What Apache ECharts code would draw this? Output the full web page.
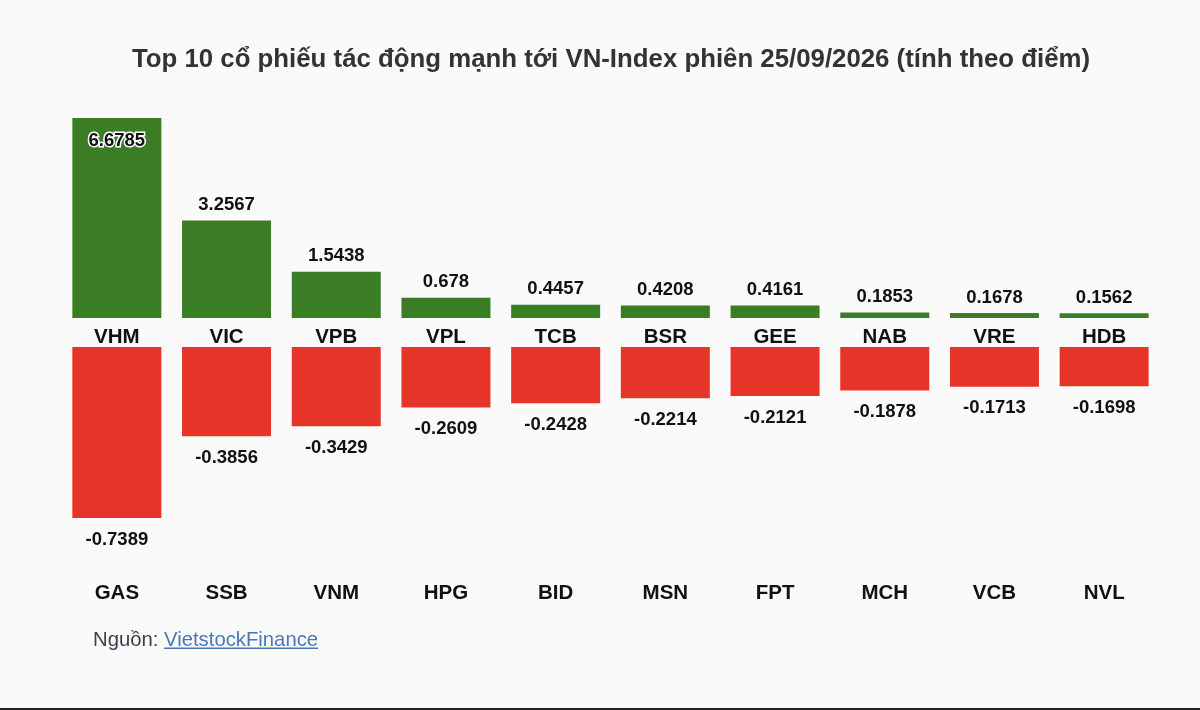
<!DOCTYPE html>
<html>
<head>
<meta charset="utf-8">
<title>Top 10 cổ phiếu tác động mạnh tới VN-Index</title>
<script src="https://cdn.jsdelivr.net/npm/echarts@6/dist/echarts.min.js"></script>
<style>
  html, body { margin: 0; padding: 0; background: #fafafa; }
  #main { width: 1200px; height: 710px; }
</style>
</head>
<body>
<div id="main"></div>
<script>
// ma tang diem / gia tri (diem)
var upNames = ['VHM', 'VIC', 'VPB', 'VPL', 'TCB', 'BSR', 'GEE', 'NAB', 'VRE', 'HDB'];
var upValues = [6.6785, 3.2567, 1.5438, 0.678, 0.4457, 0.4208, 0.4161, 0.1853, 0.1678, 0.1562];
// ma giam diem
var downNames = ['GAS', 'SSB', 'VNM', 'HPG', 'BID', 'MSN', 'FPT', 'MCH', 'VCB', 'NVL'];
var downValues = [-0.7389, -0.3856, -0.3429, -0.2609, -0.2428, -0.2214, -0.2121, -0.1878, -0.1713, -0.1698];

var FONT = '"Liberation Sans", Arial, Helvetica, sans-serif';
var GREEN = '#3b7d24';
var RED = '#e73428';

var dom = document.getElementById('main');
var myChart = echarts.init(dom);

// do rong chu de gach chan link nguon
var SRC_SIZE = 20.3;
var ctx = document.createElement('canvas').getContext('2d');
ctx.font = SRC_SIZE + 'px ' + FONT;
var srcLabel = 'Nguồn: ';
var srcLink = 'VietstockFinance';
var labelW = ctx.measureText(srcLabel).width;
var linkW = ctx.measureText(srcLink).width;

var upData = upValues.map(function (v, i) {
    if (i === 0) {
        // cot lon nhat: nhan nam trong cot
        return {
            value: v,
            label: {
                position: 'insideTop',
                distance: 13,
                textBorderColor: '#ffffff',
                textBorderWidth: 3
            }
        };
    }
    return v;
});

option = {
    backgroundColor: '#fafafa',
    animation: false,
    title: {
        text: 'Top 10 cổ phiếu tác động mạnh tới VN-Index phiên 25/09/2026 (tính theo điểm)',
        left: 611,
        textAlign: 'center',
        top: 47,
        padding: 0,
        textStyle: {
            color: '#333333',
            fontFamily: FONT,
            fontWeight: 'bold',
            fontSize: 25.8
        }
    },
    grid: [
        { left: 62, right: 41, top: 118, height: 200 },
        { left: 62, right: 41, top: 347, height: 171 }
    ],
    xAxis: [
        {
            type: 'category',
            gridIndex: 0,
            data: upNames,
            position: 'bottom',
            axisLine: { show: false },
            axisTick: { show: false },
            axisLabel: {
                margin: 9,
                color: '#111111',
                fontFamily: FONT,
                fontWeight: 'bold',
                fontSize: 20.5
            }
        },
        {
            type: 'category',
            gridIndex: 1,
            data: downNames,
            position: 'bottom',
            axisLine: { show: false },
            axisTick: { show: false },
            axisLabel: {
                margin: 65,
                color: '#111111',
                fontFamily: FONT,
                fontWeight: 'bold',
                fontSize: 20.5
            }
        }
    ],
    yAxis: [
        { type: 'value', gridIndex: 0, min: 0, max: 6.6785, show: false },
        { type: 'value', gridIndex: 1, min: -0.7389, max: 0, show: false }
    ],
    series: [
        {
            name: 'Tăng',
            type: 'bar',
            xAxisIndex: 0,
            yAxisIndex: 0,
            barWidth: 89,
            itemStyle: { color: GREEN },
            label: {
                show: true,
                position: 'top',
                distance: 6,
                color: '#111111',
                fontFamily: FONT,
                fontWeight: 'bold',
                fontSize: 18.5
            },
            data: upData
        },
        {
            name: 'Giảm',
            type: 'bar',
            xAxisIndex: 1,
            yAxisIndex: 1,
            barWidth: 89,
            itemStyle: { color: RED },
            label: {
                show: true,
                position: 'bottom',
                distance: 12,
                color: '#111111',
                fontFamily: FONT,
                fontWeight: 'bold',
                fontSize: 18.5
            },
            data: downValues
        }
    ],
    graphic: [
        {
            type: 'text',
            left: 93,
            top: 630,
            style: {
                text: srcLabel,
                fill: '#3b404c',
                font: SRC_SIZE + 'px ' + FONT
            }
        },
        {
            type: 'text',
            left: 93 + labelW,
            top: 630,
            style: {
                text: srcLink,
                fill: '#4a78b2',
                font: SRC_SIZE + 'px ' + FONT
            }
        },
        {
            type: 'rect',
            shape: { x: 93 + labelW, y: 647.5, width: linkW, height: 1.5 },
            style: { fill: '#4a78b2' }
        },
        {
            type: 'rect',
            shape: { x: 0, y: 708, width: 1200, height: 2 },
            style: { fill: '#222222' }
        }
    ]
};

if (option && typeof option === "object") {
    myChart.setOption(option, true);
}

window.addEventListener("resize", function () {
    myChart.resize();
});
</script>
</body>
</html>
